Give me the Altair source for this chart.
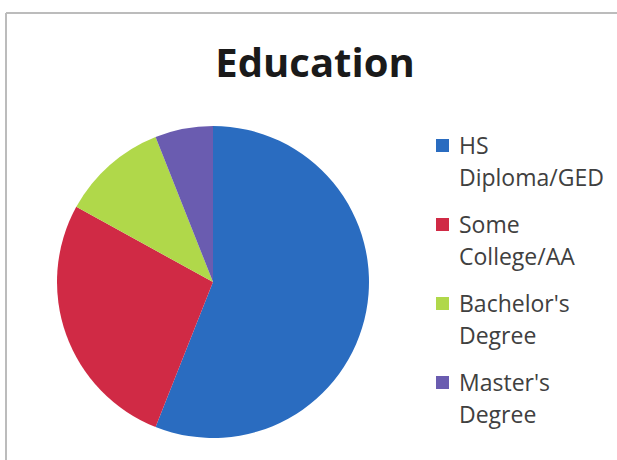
import altair as alt
import pandas as pd

categories = ["HS Diploma/GED", "Some College/AA", "Bachelor's Degree", "Master's Degree"]
values = [56, 27, 11, 6]
colors = ["#2a6cc0", "#d02a45", "#b0d84a", "#6a5cb0"]
order = [0, 1, 2, 3]

df = pd.DataFrame({"cat": categories, "val": values, "ord": order})

W, H = 617, 460

pie = alt.Chart(df).mark_arc().encode(
    theta=alt.Theta("val:Q", stack=True),
    order=alt.Order("ord:Q"),
    color=alt.Color(
        "cat:N",
        scale=alt.Scale(domain=categories, range=colors),
        legend=alt.Legend(
            title=None,
            orient="none",
            legendX=431,
            legendY=134,
            symbolType="square",
            symbolSize=169,
            symbolStrokeWidth=0,
            labelFont="Open Sans",
            labelFontSize=23,
            labelColor="#404040",
            labelBaseline="top",
            labelExpr="split(datum.label, ' ')",
            labelLimit=220,
            labelOffset=5,
            rowPadding=22,
        ),
    ),
    radius=alt.value(156),
    x=alt.value(213),
    y=alt.value(282),
)

title = alt.Chart(pd.DataFrame({"t": ["Education"]})).mark_text(
    font="Open Sans", fontSize=40, fontWeight="bold", color="#1a1a1a",
    align="center", baseline="alphabetic"
).encode(text="t:N", x=alt.value(315), y=alt.value(77))

border_top = alt.Chart(pd.DataFrame({"a": [0]})).mark_rule(color="#bcbcbc", strokeWidth=2).encode(
    x=alt.value(6), x2=alt.value(W), y=alt.value(13)
)
border_left = alt.Chart(pd.DataFrame({"a": [0]})).mark_rule(color="#bcbcbc", strokeWidth=2).encode(
    x=alt.value(6), y=alt.value(13), y2=alt.value(H)
)

chart = alt.layer(border_top, border_left, pie, title).properties(
    width=W, height=H, autosize=alt.AutoSizeParams(type="none"), padding=0, background="white"
).configure(style={"guide-label": {"lineHeight": 32, "dy": -10}}).configure_view(strokeWidth=0)

chart.save("out.html", embed_options={"renderer": "svg", "actions": False})
